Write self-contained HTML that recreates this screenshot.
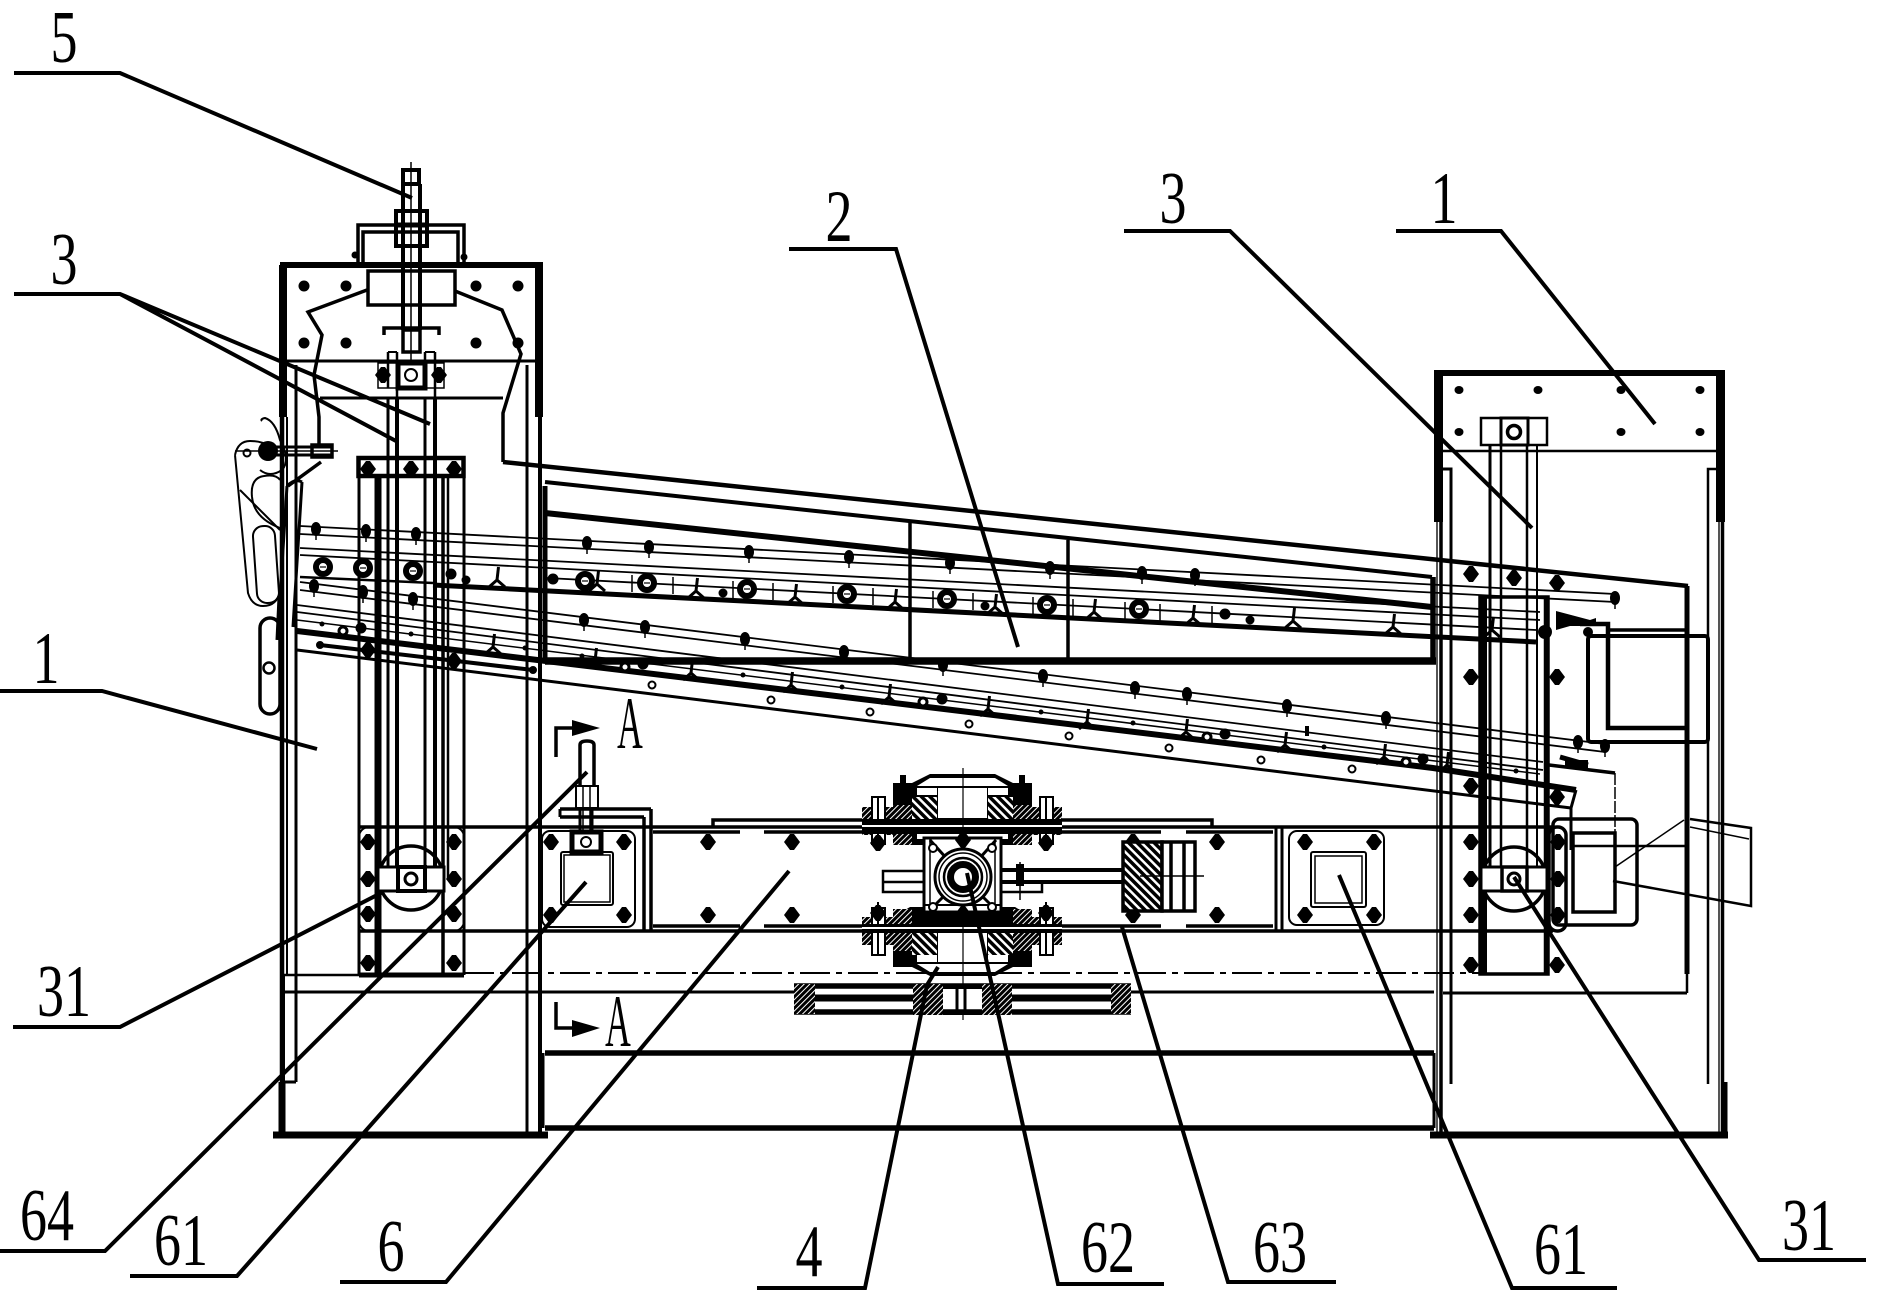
<!DOCTYPE html>
<html><head><meta charset="utf-8"><style>
html,body{margin:0;padding:0;background:#fff}
svg{display:block}
.n{font-family:"Liberation Serif",serif;font-size:74px;fill:#000}
</style></head><body>
<svg xmlns="http://www.w3.org/2000/svg" width="1879" height="1301" viewBox="0 0 1879 1301">
<defs>
<pattern id="h" width="4" height="4" patternUnits="userSpaceOnUse" patternTransform="rotate(-45)"><rect width="4" height="4" fill="#000"/><rect width="4" height="1" fill="#fff"/></pattern>
<pattern id="h2" width="6" height="6" patternUnits="userSpaceOnUse" patternTransform="rotate(45)"><rect width="6" height="6" fill="#fff"/><rect width="6" height="3.500" fill="#000"/></pattern>
<polygon id="d" points="-8,0 -2,-8 2,-8 8,0 2,8 -2,8"/>
<g id="r"><circle r="7" fill="#fff" stroke="#000" stroke-width="6"/><rect x="-3" y="-.6" width="6" height="1.2" fill="#000"/></g>
<g id="y" fill="none" stroke="#000" stroke-width="3"><path d="M1.500,-18 L0,-5"/><path d="M0,-5 L-8,2 M0,-5 L8,2"/></g>
<g id="b"><ellipse rx="5" ry="7" fill="#000"/><path d="M0,0V11" stroke="#000" stroke-width="1.500"/></g>
<circle id="s" r="3.500" fill="#fff" stroke="#000" stroke-width="2"/>
<g id="o"><circle r="4" fill="#fff" stroke="#000" stroke-width="3"/></g>
</defs>
<rect width="1879" height="1301" fill="#fff"/>

<!-- LEFT PILLAR -->
<g fill="none" stroke="#000" stroke-width="3">
<path d="M280,265H543" stroke-width="6"/>
<rect x="279" y="265" width="8" height="152" fill="#000" stroke="none"/>
<rect x="535" y="265" width="8" height="152" fill="#000" stroke="none"/>
<path d="M281,361H540"/>
<path d="M282,417V1135" stroke-width="4.500"/>
<path d="M287,417V975" stroke-width="2"/>
<path d="M296,365V1082"/>
<path d="M284,975V1082" stroke-width="2"/>
<path d="M282,1082V1135" stroke-width="7"/>
<path d="M282,1082H296"/>
<path d="M527,365V1135"/>
<path d="M540,365V1135" stroke-width="4"/>
<path d="M545,486V662" stroke-width="5"/>
<path d="M273,1135H548" stroke-width="7"/>
<rect x="368" y="271" width="87" height="34" stroke-width="3.500"/>
<path d="M358,265V225H464V265M363,265V232H458V265" stroke-width="3.500"/>
<path d="M367,290L308,312L322,335L314,375L319,417V448M321,462L288,486" stroke-width="3.500"/>
<path d="M455,291L502,310L521,354L503,413V462" stroke-width="3.500"/>
<path d="M320,398H503"/>
</g>
<g fill="#000">
<circle cx="304" cy="286" r="5.500"/><circle cx="346" cy="286" r="5.500"/><circle cx="476" cy="286" r="5.500"/><circle cx="518" cy="286" r="5.500"/>
<circle cx="304" cy="343" r="5.500"/><circle cx="346" cy="343" r="5.500"/><circle cx="476" cy="343" r="5.500"/><circle cx="518" cy="343" r="5.500"/>
<circle cx="355" cy="255" r="3.500"/><circle cx="464" cy="257" r="3.500"/>
</g>
<!-- Screw -->
<g fill="none" stroke="#000">
<rect x="403" y="170" width="16" height="14" stroke-width="4"/>
<path d="M403,184V330M420,184V330" stroke-width="4"/>
<path d="M411,162V360" stroke-width="1.500"/>
<rect x="396" y="211" width="31" height="35" stroke-width="4"/>
<path d="M397,225H426" stroke-width="5"/>
<path d="M384,335V328H439V335" stroke-width="3.500"/>
<rect x="403" y="330" width="17" height="22" stroke-width="3.500"/>
<rect x="378" y="363" width="66" height="25" stroke-width="1.500"/>
<rect x="398" y="363" width="27" height="25" stroke-width="5"/>
<circle cx="411" cy="375" r="6" stroke-width="2"/>
<path d="M388,352V388M397,352V398M425,352V388M435,352V398" stroke-width="2.500"/>
<path d="M388,398V880M425,398V880" stroke-width="3"/>
<path d="M397,398V880M435,398V880" stroke-width="4"/>
<path d="M388,352H397M425,352H435" stroke-width="2"/>
</g>
<use href="#d" x="383" y="375"/><use href="#d" x="439" y="375"/>
<!-- Left slide -->
<g fill="none" stroke="#000">
<rect x="358.500" y="458" width="105" height="18" stroke-width="4.500"/>
<path d="M359,476V975M464,476V975" stroke-width="3"/>
<path d="M375,476H448" stroke-width="3.500"/>
<path d="M378,476V975" stroke-width="7"/>
<path d="M443,476V975" stroke-width="3.500"/>
<path d="M448,476V880" stroke-width="2.500"/>
<path d="M359,975H464" stroke-width="5"/>
<circle cx="411" cy="878" r="32" stroke-width="3.500"/>
<rect x="378" y="867" width="66" height="24" stroke-width="3" fill="#fff"/>
<rect x="398" y="867" width="27" height="24" stroke-width="4"/>
<circle cx="411" cy="879" r="6" stroke-width="3"/>
<rect x="359" y="827" width="105" height="104" rx="10" stroke-width="2"/>
</g>
<g>
<use href="#d" x="368" y="469"/><use href="#d" x="411" y="469"/><use href="#d" x="454" y="469"/>
<use href="#d" x="368" y="650"/><use href="#d" x="454" y="661"/>
<use href="#d" x="368" y="842"/><use href="#d" x="454" y="842"/>
<use href="#d" x="368" y="879"/><use href="#d" x="454" y="879"/>
<use href="#d" x="368" y="914"/><use href="#d" x="454" y="914"/>
<use href="#d" x="368" y="963"/><use href="#d" x="454" y="963"/>
</g>
<!-- Left handle -->
<g fill="none" stroke="#000" stroke-width="2">
<path d="M235,451H338" stroke-width="1.500"/>
<path d="M268,447H332M268,455H332" stroke-width="3"/>
<rect x="312" y="445" width="20" height="12" stroke-width="3.500"/>
<circle cx="247" cy="453" r="3.500"/>
<path d="M235,455Q238,441 250,441Q262,441 268,446M235,455L248,593Q252,606 263,606Q277,606 280,591"/>
<path d="M252,497Q250,478 264,476Q276,474 280,480"/>
<path d="M252,497Q254,518 280,528"/>
<rect x="255" y="526" width="22" height="77" rx="10" transform="rotate(-4 266 565)"/>
<path d="M262,421Q260,419 265,418Q275,421 280,440Q291,460 282,470Q270,478 260,470"/>
<path d="M240,490L280,530"/>
<rect x="260" y="618" width="20" height="96" rx="10" stroke-width="3.500"/>
<circle cx="269" cy="668" r="5.500" stroke-width="2.500"/>
<path d="M287,486L280,597M302,482L293,627M287,486Q295,478 302,482" stroke-width="3"/>
<path d="M280,597L278,640" stroke-width="5"/>
</g>
<circle cx="268" cy="451" r="10"/>

<!-- RIGHT PILLAR -->
<g fill="none" stroke="#000" stroke-width="3">
<path d="M1434,373H1725" stroke-width="6"/>
<rect x="1434" y="372" width="9" height="150" fill="#000" stroke="none"/>
<rect x="1716" y="372" width="9" height="150" fill="#000" stroke="none"/>
<path d="M1443,451H1716" stroke-width="2.500"/>
<path d="M1437,522V1135" stroke-width="2" stroke="#555"/>
<path d="M1441,522V1135" stroke-width="3.500"/>
<path d="M1443,469H1451V1084"/>
<path d="M1716,469H1708V1084" stroke-width="2.500"/>
<path d="M1719,522V1135" stroke-width="2" stroke="#555"/>
<path d="M1722.500,522V1135" stroke-width="3.500"/>
<path d="M1725,1082V1135" stroke-width="5"/>
<path d="M1430,1135H1728" stroke-width="7"/>
<rect x="1481" y="418" width="66" height="27" stroke-width="2.500"/>
<rect x="1501" y="418" width="27" height="27" stroke-width="3"/>
<circle cx="1514" cy="432" r="6.500" stroke-width="3.500"/>
<path d="M1490,445V885" stroke-width="3"/>
<path d="M1501,445V885" stroke-width="2.500"/>
<path d="M1527,445V885" stroke-width="2.500"/>
<path d="M1537,445V885" stroke-width="2"/>
<rect x="1480" y="597" width="68" height="377" stroke-width="3.500"/>
<path d="M1484,597V974" stroke-width="6"/>
<path d="M1546,597V974" stroke-width="4.500"/>
<circle cx="1514" cy="879" r="32" stroke-width="3.500"/>
<rect x="1481" y="867" width="66" height="24" stroke-width="3" fill="#fff"/>
<rect x="1502" y="867" width="25" height="24" stroke-width="3.500"/>
<circle cx="1514" cy="879" r="6" stroke-width="3"/>
<rect x="1549" y="827" width="17" height="104" rx="8" stroke-width="3.500"/>
<rect x="1553" y="819" width="84" height="106" rx="6" stroke-width="3.500"/>
<rect x="1573" y="833" width="42" height="79" stroke-width="3.500"/>
<path d="M1571,846H1687" stroke-width="2.500"/>
<path d="M1687,586V974" stroke-width="5"/>
<path d="M1687,974V993" stroke-width="2.500"/>
<path d="M1443,993H1687" stroke-width="3"/>
<rect x="1588" y="636" width="120" height="106" rx="3" stroke-width="4"/>
<path d="M1580,624H1608V728H1687" stroke-width="4.500"/>
<path d="M1608,630H1687" stroke-width="3.500"/>
<path d="M1615,867L1684,820" stroke-width="1.500"/>
<path d="M1690,819L1751,828V906L1613,881" stroke-width="2.500"/>
<path d="M1690,827L1749,839" stroke-width="1.500"/>
<path d="M1615,773V881" stroke-width="1.500" stroke-dasharray="12 2"/>
<path d="M1549,765L1615,773" stroke-width="3.500"/>
<path d="M1560,757L1588,765" stroke-width="5"/>
<path d="M1576,790L1571,808V850" stroke-width="3"/>
</g>
<g>
<use href="#d" x="1471" y="574"/><use href="#d" x="1514" y="578"/><use href="#d" x="1557" y="583"/>
<use href="#d" x="1471" y="677"/><use href="#d" x="1557" y="677"/>
<use href="#d" x="1471" y="786"/><use href="#d" x="1557" y="797"/>
<use href="#d" x="1471" y="842"/><use href="#d" x="1471" y="879"/><use href="#d" x="1471" y="915"/>
<use href="#d" x="1558" y="842"/><use href="#d" x="1558" y="879"/><use href="#d" x="1558" y="915"/>
<use href="#d" x="1471" y="965"/><use href="#d" x="1557" y="965"/>
<ellipse cx="1459" cy="390" rx="4.500" ry="4"/><ellipse cx="1538" cy="390" rx="4.500" ry="4"/><ellipse cx="1621" cy="390" rx="4.500" ry="4"/><ellipse cx="1700" cy="390" rx="4.500" ry="4"/>
<ellipse cx="1459" cy="432" rx="4.500" ry="4"/><ellipse cx="1621" cy="432" rx="4.500" ry="4"/><ellipse cx="1700" cy="432" rx="4.500" ry="4"/>
<circle cx="1545" cy="632" r="7"/><circle cx="1588" cy="632" r="5"/>
<path d="M1556,611L1590,620L1596,618V626H1570L1556,630Z"/>
<path d="M1565,760H1588V768H1565Z"/>
</g>

<!-- UPPER BOX -->
<g fill="none" stroke="#000">
<path d="M503,462L1688,586" stroke-width="4.500"/>
<path d="M545,482L1432,577" stroke-width="4"/>
<path d="M545,513L1432,607" stroke-width="6"/>
<path d="M1433,577V664" stroke-width="5.500"/>
<path d="M545,661H1436" stroke-width="7.500"/>
<path d="M910,520V661M1068,540V661" stroke-width="3.500"/>
<!-- upper screen lines -->
<path d="M300,526L1615,594M300,534L1615,602" stroke-width="1.800"/>
<path d="M300,548L1540,612M300,555L1540,620" stroke-width="1.800"/>
<path d="M547,578L1536,630" stroke-width="1.800"/>
<path d="M433,585L1536,642" stroke-width="5"/>
<path d="M300,577L433,583" stroke-width="2.500"/>
<path d="M632,575V592M673,577V594M733,581V598M773,583V600M833,586V603M873,588V605M933,591V608M973,593V610M1033,597V614M1073,599V616M1125,602V619M1160,604V621M1212,606V623" stroke-width="1.500"/>
<!-- lower screen lines -->
<path d="M300,582L1605,744M300,590L1605,752" stroke-width="1.800"/>
<path d="M297,605L1543,762M297,612L1543,770" stroke-width="1.800"/>
<path d="M297,620L1540,774" stroke-width="1.500"/>
<path d="M297,631L1433,768L1576,790" stroke-width="6"/>
<path d="M297,650L1571,808" stroke-width="3"/>
<path d="M320,645L533,670" stroke-width="4"/>
<circle cx="320" cy="645" r="3.500" fill="#000"/><circle cx="533" cy="670" r="3.500" fill="#000"/>
</g>
<!-- upper Y brackets -->
<use href="#y" x="497" y="585"/><use href="#y" x="597" y="589"/><use href="#y" x="696" y="596"/><use href="#y" x="795" y="602"/><use href="#y" x="895" y="607"/><use href="#y" x="995" y="612"/><use href="#y" x="1094" y="617"/><use href="#y" x="1193" y="623"/><use href="#y" x="1293" y="626"/><use href="#y" x="1393" y="632"/><use href="#y" x="1492" y="635"/>
<!-- upper rings -->
<use href="#r" x="323" y="567"/><use href="#r" x="363" y="568"/><use href="#r" x="413" y="571"/><use href="#r" x="585" y="581"/><use href="#r" x="647" y="583"/><use href="#r" x="747" y="589"/><use href="#r" x="847" y="594"/><use href="#r" x="947" y="599"/><use href="#r" x="1047" y="605"/><use href="#r" x="1139" y="609"/>
<g fill="#000">
<circle cx="451" cy="574" r="5.500"/><circle cx="466" cy="580" r="4.500"/><circle cx="553" cy="579" r="5.500"/><circle cx="723" cy="593" r="4.500"/><circle cx="985" cy="606" r="4.500"/><circle cx="1225" cy="614" r="5.500"/><circle cx="1250" cy="620" r="4.500"/>
</g>
<!-- upper bolts -->
<use href="#b" x="316" y="529"/><use href="#b" x="366" y="531"/><use href="#b" x="416" y="534"/><use href="#b" x="587" y="543"/><use href="#b" x="649" y="547"/><use href="#b" x="749" y="552"/><use href="#b" x="849" y="557"/><use href="#b" x="950" y="563"/><use href="#b" x="1050" y="568"/><use href="#b" x="1142" y="573"/><use href="#b" x="1195" y="575"/><use href="#b" x="1615" y="598"/>
<!-- lower Y -->
<use href="#y" x="493" y="652"/><use href="#y" x="595" y="666"/><use href="#y" x="691" y="678"/><use href="#y" x="791" y="690"/><use href="#y" x="889" y="702"/><use href="#y" x="988" y="714"/><use href="#y" x="1087" y="727"/><use href="#y" x="1186" y="737"/><use href="#y" x="1285" y="750"/><use href="#y" x="1384" y="762"/><use href="#y" x="1447" y="770"/>
<!-- lower bolts -->
<use href="#b" x="314" y="586"/><use href="#b" x="363" y="592"/><use href="#b" x="413" y="599"/><use href="#b" x="584" y="620"/><use href="#b" x="645" y="627"/><use href="#b" x="745" y="639"/><use href="#b" x="844" y="652"/><use href="#b" x="943" y="665"/><use href="#b" x="1043" y="676"/><use href="#b" x="1135" y="688"/><use href="#b" x="1187" y="694"/><use href="#b" x="1287" y="706"/><use href="#b" x="1386" y="718"/><use href="#b" x="1578" y="742"/><use href="#b" x="1605" y="746"/>
<!-- lower rings -->
<use href="#s" x="652" y="685"/><use href="#s" x="771" y="700"/><use href="#s" x="870" y="712"/><use href="#s" x="969" y="724"/><use href="#s" x="1069" y="736"/><use href="#s" x="1169" y="748"/><use href="#s" x="1261" y="760"/><use href="#s" x="1352" y="769"/>
<use href="#o" x="343" y="631"/><use href="#o" x="625" y="667"/><use href="#o" x="923" y="702"/><use href="#o" x="1207" y="737"/><use href="#o" x="1406" y="762"/>
<g fill="#000">
<circle cx="361" cy="628" r="5.500"/><circle cx="643" cy="664" r="5.500"/><circle cx="942" cy="699" r="5.500"/><circle cx="1225" cy="734" r="5.500"/><circle cx="1423" cy="759" r="5.500"/>
<circle cx="322" cy="624" r="2.500"/><circle cx="411" cy="634" r="2.500"/><circle cx="525" cy="648" r="2.500"/><circle cx="582" cy="656" r="2.500"/><circle cx="743" cy="675" r="2.500"/><circle cx="842" cy="687" r="2.500"/><circle cx="1041" cy="712" r="2.500"/><circle cx="1133" cy="723" r="2.500"/><circle cx="1324" cy="747" r="2.500"/><circle cx="1516" cy="771" r="2.500"/>
<rect x="1305" y="726" width="4" height="10"/>
</g>

<!-- BEAM -->
<g fill="none" stroke="#000">
<path d="M359,827H1553" stroke-width="3.500"/>
<path d="M359,931H1553" stroke-width="3.500"/>
<path d="M713,826V820H1212V826" stroke-width="3.500"/>
<path d="M653,832H740M764,832H1161M1186,832H1273" stroke-width="3.500"/>
<path d="M653,926H740M764,926H1161M1186,926H1273" stroke-width="3.500"/>
<path d="M651,809V931M644,817V931" stroke-width="3.500"/>
<path d="M1276,827V931M1282,827V931" stroke-width="3"/>
<path d="M464,973H1480" stroke-width="2" stroke-dasharray="30 6 6 6"/>
<path d="M281,992H1434" stroke-width="3"/>
<path d="M281,975H360" stroke-width="2.500"/>
<path d="M545,1053H1434" stroke-width="5.500"/>
<path d="M543,1053V1128" stroke-width="3"/>
<path d="M1434,1053V1128" stroke-width="3"/>
<path d="M545,1128H1434" stroke-width="5.500"/>
<!-- left plate -->
<rect x="542" y="831" width="93" height="96" rx="8" stroke-width="2"/>
<rect x="561" y="852" width="52" height="53" rx="2" stroke-width="2"/>
<rect x="564" y="855" width="46" height="47" stroke-width="1.500"/>
<rect x="572" y="832" width="29" height="20" stroke-width="5"/>
<circle cx="586" cy="842" r="5" stroke-width="2"/>
<path d="M580,787V745Q580,741 587,741Q594,741 594,745V787" stroke-width="3.500"/>
<rect x="576" y="786" width="22" height="22" stroke-width="2"/>
<path d="M583,786V830M590,786V830" stroke-width="1.500"/>
<path d="M560,809H651" stroke-width="3.500"/><path d="M560,817H644" stroke-width="3.500"/><path d="M560,809V817" stroke-width="3"/>
<path d="M580,810V832M592,810V832" stroke-width="3"/>
<!-- right plate -->
<rect x="1289" y="831" width="95" height="94" rx="8" stroke-width="2"/>
<rect x="1311" y="852" width="55" height="55" rx="2" stroke-width="2"/>
<rect x="1315" y="856" width="47" height="47" stroke-width="1.500"/>
</g>
<g>
<use href="#d" x="551" y="842"/><use href="#d" x="624" y="842"/><use href="#d" x="551" y="915"/><use href="#d" x="624" y="915"/>
<use href="#d" x="708" y="842"/><use href="#d" x="792" y="842"/><use href="#d" x="708" y="915"/><use href="#d" x="792" y="915"/>
<use href="#d" x="1133" y="842"/><use href="#d" x="1217" y="842"/><use href="#d" x="1133" y="915"/><use href="#d" x="1217" y="915"/>
<use href="#d" x="1305" y="842"/><use href="#d" x="1374" y="842"/><use href="#d" x="1305" y="915"/><use href="#d" x="1374" y="915"/>
</g>

<!-- GEARBOX body halves -->
<g>
<path d="M893,783H912L930,774H995L1013,783H1032V835L1015,845H910L893,835Z" fill="#000"/>
<path d="M930,778H995L1008,786H917Z" fill="#fff"/>
<rect x="917" y="788" width="20" height="7" fill="#fff"/><rect x="988" y="788" width="20" height="7" fill="#fff"/>
<rect x="938" y="788" width="49" height="30" fill="#fff"/>
<rect x="912" y="797" width="25" height="22" fill="url(#h2)"/><rect x="988" y="797" width="25" height="22" fill="url(#h2)"/>
<rect x="862" y="807" width="31" height="28" fill="url(#h)"/><rect x="1032" y="807" width="30" height="28" fill="url(#h)"/>
<rect x="893" y="805" width="19" height="40" fill="url(#h)"/><rect x="1013" y="805" width="19" height="40" fill="url(#h)"/>
<rect x="872" y="797" width="13" height="47" fill="#fff" stroke="#000" stroke-width="2"/><rect x="1040" y="797" width="13" height="47" fill="#fff" stroke="#000" stroke-width="2"/>
<path d="M878,797V850M1046,797V850" stroke="#000" stroke-width="2"/>
<rect x="900" y="775" width="6" height="12"/><rect x="1019" y="775" width="6" height="12"/>
<rect x="862" y="819" width="200" height="15" fill="#000"/>
<rect x="862" y="825" width="200" height="2" fill="#fff"/>
<rect x="917" y="834" width="91" height="5" fill="#fff"/>
<use href="#d" x="878" y="843"/><use href="#d" x="1046" y="843"/>
</g>
<g>
<path d="M893,967H912L930,976H995L1013,967H1032V917L1015,907H910L893,917Z" fill="#000"/>
<path d="M930,972H995L1008,964H917Z" fill="#fff"/>
<rect x="917" y="955" width="20" height="7" fill="#fff"/><rect x="988" y="955" width="20" height="7" fill="#fff"/>
<rect x="938" y="932" width="49" height="30" fill="#fff"/>
<rect x="912" y="931" width="25" height="24" fill="url(#h2)"/><rect x="988" y="931" width="25" height="24" fill="url(#h2)"/>
<rect x="862" y="917" width="31" height="28" fill="url(#h)"/><rect x="1032" y="917" width="30" height="28" fill="url(#h)"/>
<rect x="893" y="909" width="19" height="42" fill="url(#h)"/><rect x="1013" y="909" width="19" height="42" fill="url(#h)"/>
<rect x="872" y="908" width="13" height="47" fill="#fff" stroke="#000" stroke-width="2"/><rect x="1040" y="908" width="13" height="47" fill="#fff" stroke="#000" stroke-width="2"/>
<path d="M878,902V955M1046,902V955" stroke="#000" stroke-width="2"/>
<rect x="862" y="924" width="200" height="9" fill="#000"/>
<rect x="862" y="927" width="200" height="2" fill="#fff"/>
<use href="#d" x="878" y="913"/><use href="#d" x="1046" y="913"/>
</g>
<!-- Housing -->
<g stroke="#000" fill="none">
<path d="M963,768V1020" stroke-width="1.200"/>
<rect x="924" y="838" width="77" height="74" stroke-width="3" fill="#fff"/>
<path d="M930,838V912M995,838V912" stroke-width="1.500"/>
<path d="M930,840L948,860M996,840L978,860M930,910L948,892M996,910L978,892" stroke-width="3"/>
<path d="M924,905H1001" stroke-width="2"/>
<path d="M917,917H1008M917,922H1008" stroke-width="2.500"/>
<circle cx="963" cy="877" r="28" stroke-width="3" fill="#fff"/>
<circle cx="963" cy="877" r="24" stroke-width="1.500"/>
<circle cx="963" cy="877" r="19" stroke-width="2.500"/>
<circle cx="963" cy="877" r="12.500" stroke-width="7"/>
<path d="M883,871H924V892H883ZM883,882H924" stroke-width="2.500"/>
<path d="M1001,870H1123M1001,882H1123" stroke-width="4"/>
<path d="M1001,892H1042V882" stroke-width="2.500"/>
<path d="M1020,862V900" stroke-width="1.500"/>
<rect x="1016" y="864" width="8" height="22" fill="#000" stroke="none"/>
<rect x="1123" y="842" width="39" height="69" fill="url(#h2)" stroke-width="3.500"/>
<rect x="1162" y="842" width="33" height="69" fill="#fff" stroke-width="3.500"/>
<path d="M1171,842V911M1184,842V911" stroke-width="3.500"/>
<path d="M1140,876H1204" stroke-width="1.500"/>
</g>
<g fill="#fff" stroke="#000" stroke-width="2">
<circle cx="933" cy="848" r="4"/><circle cx="992" cy="848" r="4"/><circle cx="933" cy="907" r="4"/><circle cx="992" cy="907" r="4"/>
</g>
<use href="#d" x="963" y="840"/><use href="#d" x="963" y="914"/>
<!-- bottom pulley -->
<g stroke="#000" fill="none">
<rect x="794" y="984" width="337" height="30" fill="#fff" stroke="none"/>
<path d="M794,986H1131M794,1012H1131" stroke-width="5.500"/>
<path d="M815,998H913M1012,998H1111" stroke-width="7"/>
<rect x="794" y="984" width="21" height="30" fill="url(#h)" stroke="none"/>
<rect x="1111" y="984" width="20" height="30" fill="url(#h)" stroke="none"/>
<rect x="913" y="984" width="30" height="31" fill="url(#h)" stroke="none"/>
<rect x="982" y="984" width="30" height="31" fill="url(#h)" stroke="none"/>
<rect x="943" y="984" width="39" height="5" fill="#000" stroke="none"/>
<rect x="943" y="1011" width="39" height="4" fill="#000" stroke="none"/>
<path d="M957,987V1012M965,987V1012" stroke-width="3"/>
</g>

<!-- SECTION MARKS -->
<g fill="none" stroke="#000" stroke-width="3.500">
<path d="M556,757V728H576M556,1002V1028H576"/>
</g>
<polygon points="572,720 600,728 572,736"/>
<polygon points="572,1020 600,1028 572,1037"/>
<text class="n" transform="translate(630,748) scale(.48,1)" text-anchor="middle">A</text>
<text class="n" transform="translate(618,1046) scale(.48,1)" text-anchor="middle">A</text>

<!-- LEADERS -->
<g fill="none" stroke="#000" stroke-width="4" stroke-linejoin="miter">
<path d="M14,73H120L412,198"/>
<path d="M14,294H120L430,424M120,294L396,441"/>
<path d="M0,691H102L317,749"/>
<path d="M13,1027H120L383,892"/>
<path d="M0,1251H105L587,772"/>
<path d="M130,1276H237L586,882"/>
<path d="M340,1282H446L789,871"/>
<path d="M757,1288H865L927,985L938,967"/>
<path d="M1164,1284H1058L967,873"/>
<path d="M1336,1282H1228L1122,927"/>
<path d="M1617,1288H1512L1339,875"/>
<path d="M1866,1260H1759L1514,877"/>
<path d="M1124,231H1230L1532,528"/>
<path d="M1396,231H1501L1655,424"/>
<path d="M789,249H896L1018,647"/>
</g>

<!-- LABELS -->
<g>
<text class="n" transform="translate(64,62) scale(.73,1)" text-anchor="middle">5</text>
<text class="n" transform="translate(64,284) scale(.73,1)" text-anchor="middle">3</text>
<text class="n" transform="translate(46,683) scale(.73,1)" text-anchor="middle">1</text>
<text class="n" transform="translate(64,1016) scale(.73,1)" text-anchor="middle">31</text>
<text class="n" transform="translate(47,1240) scale(.73,1)" text-anchor="middle">64</text>
<text class="n" transform="translate(181,1265) scale(.73,1)" text-anchor="middle">61</text>
<text class="n" transform="translate(391,1271) scale(.73,1)" text-anchor="middle">6</text>
<text class="n" transform="translate(809,1276) scale(.73,1)" text-anchor="middle">4</text>
<text class="n" transform="translate(1108,1272) scale(.73,1)" text-anchor="middle">62</text>
<text class="n" transform="translate(1280,1272) scale(.73,1)" text-anchor="middle">63</text>
<text class="n" transform="translate(1561,1274) scale(.73,1)" text-anchor="middle">61</text>
<text class="n" transform="translate(1809,1250) scale(.73,1)" text-anchor="middle">31</text>
<text class="n" transform="translate(1173,223) scale(.73,1)" text-anchor="middle">3</text>
<text class="n" transform="translate(1444,223) scale(.73,1)" text-anchor="middle">1</text>
<text class="n" transform="translate(839,241) scale(.73,1)" text-anchor="middle">2</text>
</g>
</svg>
</body></html>
